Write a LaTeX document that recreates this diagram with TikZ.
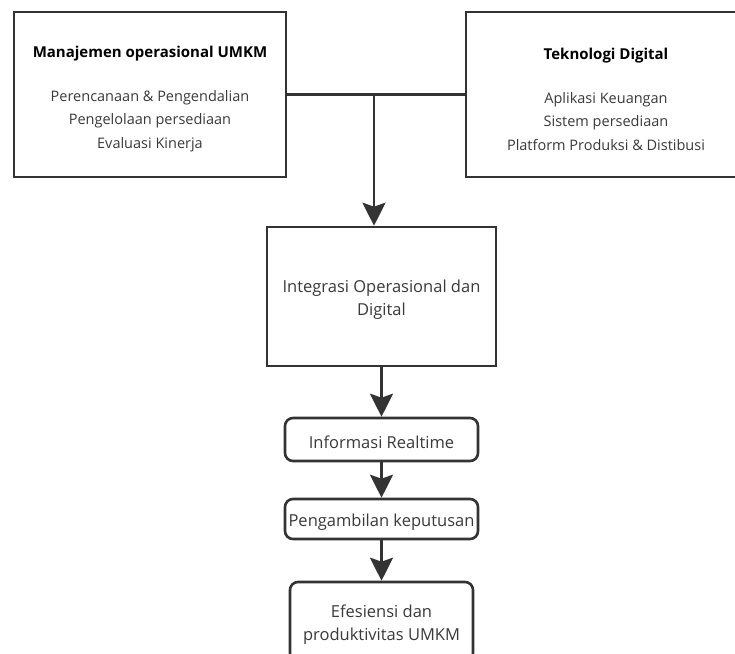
\documentclass[tikz,border=0pt]{standalone}
\usepackage{fontspec}
\setmainfont{Open Sans}
\usetikzlibrary{arrows.meta}
\definecolor{ln}{HTML}{333333}
\definecolor{tx}{HTML}{3A3A3A}
\tikzset{
  box/.style={draw=ln, line width=2.6pt, rectangle, inner sep=0pt},
  rbox/.style={box, rounded corners=8pt},
  txt/.style={align=center, text=tx, inner sep=0pt, yshift=-3pt,
    font=\fontsize{16.5}{23}\selectfont},
  toptxt/.style={txt, yshift=-1.5pt, font=\fontsize{14.5}{23.5}\selectfont},
  ttl/.style={font=\fontsize{15}{23.5}\selectfont\bfseries},
  conn/.style={draw=ln, line width=2.6pt},
  arr/.style={conn, -{Stealth[length=23pt, width=23pt, inset=4pt]}},
}
\begin{document}
\begin{tikzpicture}[x=1pt, y=-1pt]
\useasboundingbox (0,0) rectangle (735,653);
\clip (0,0) rectangle (735,653);
\fill[white] (0,0) rectangle (735,653);
\node[box, minimum width=272pt, minimum height=165pt] (left) at (150,94.5) {};
\node[toptxt] (lefttxt) at (left.center)
  {{\fontsize{15}{23.5}\selectfont\bfseries\color{black}Manajemen operasional UMKM}\\[20.5pt]Perencanaan \& Pengendalian\\Pengelolaan persediaan\\Evaluasi Kinerja};
\node[box, minimum width=280pt, minimum height=165pt] (right) at (606,94.5) {};
\node[toptxt] (righttxt) at (right.center)
  {{\fontsize{15}{23.5}\selectfont\bfseries\color{black}Teknologi Digital}\\[20.5pt]Aplikasi Keuangan\\Sistem persediaan\\Platform Produksi \& Distibusi};
\node[box, minimum width=229pt, minimum height=139pt] (integ) at (381.5,296.5) {};
\node[txt] (integtxt) at (integ.center) {Integrasi Operasional dan\\Digital};
\node[rbox, minimum width=193pt, minimum height=43pt] (info) at (381.5,439.5) {};
\node[txt] (infotxt) at (info.center) {Informasi Realtime};
\node[rbox, minimum width=193pt, minimum height=40pt] (peng) at (381.5,519) {};
\node[txt] (pengtxt) at (peng.center) {Pengambilan keputusan};
\node[rbox, minimum width=183pt, minimum height=79pt] (efe) at (381.5,621.5) {};
\node[txt] (efetxt) at (efe.center) {Efesiensi dan\\produktivitas UMKM};
\coordinate (j) at (374,94.5);
\draw[conn] (left.east) -- (right.west);
\draw[arr] (j) -- (j |- integ.north);
\draw[arr] (integ.south) -- (info.north);
\draw[arr] (info.south) -- (peng.north);
\draw[arr] (peng.south) -- (efe.north);
\end{tikzpicture}
\end{document}
